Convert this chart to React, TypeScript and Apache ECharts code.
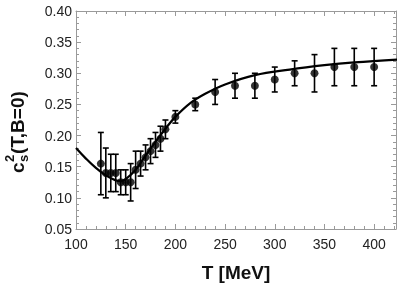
import React, { useEffect, useRef } from "react";
import * as echarts from "echarts";

// Lattice data points
const tempT = [125, 130, 135, 140, 145, 150, 155, 160, 165, 170, 175, 180, 185, 190, 200, 220, 240, 260, 280, 300, 320, 340, 360, 380, 400];
const cs2 = [0.155, 0.14, 0.14, 0.14, 0.125, 0.125, 0.125, 0.145, 0.155, 0.165, 0.175, 0.185, 0.195, 0.21, 0.23, 0.25, 0.27, 0.28, 0.28, 0.29, 0.30, 0.30, 0.31, 0.31, 0.31];
const cs2Err = [0.05, 0.04, 0.03, 0.03, 0.02, 0.02, 0.03, 0.03, 0.02, 0.02, 0.02, 0.02, 0.02, 0.015, 0.01, 0.01, 0.02, 0.02, 0.02, 0.02, 0.02, 0.03, 0.03, 0.03, 0.03];

// Model curve
const curveT = [100, 110, 120, 130, 140, 145, 150, 160, 170, 180, 190, 200, 215, 230, 250, 280, 315, 350, 380, 423];
const curveCs2 = [0.18, 0.163, 0.148, 0.136, 0.128, 0.127, 0.13, 0.145, 0.168, 0.19, 0.211, 0.23, 0.252, 0.267, 0.282, 0.297, 0.306, 0.313, 0.3175, 0.322];

const xTicks = [100, 150, 200, 250, 300, 350, 400];

const FONT = "'Liberation Sans', Arial, sans-serif";

export default function App() {
  const ref = useRef<HTMLDivElement>(null);
  useEffect(() => {
    if (!ref.current) return;
    const chart = echarts.init(ref.current, undefined, { renderer: "svg" });
    const frame = "#9a9a9a";
    const tickStyle = { lineStyle: { color: frame, width: 1 } };
    const baseX = {
      type: "value" as const,
      min: 100,
      max: 422,
      interval: 50,
      axisLine: { show: true, onZero: false, lineStyle: { color: frame, width: 1 } },
      axisTick: { show: true, inside: true, length: 5, ...tickStyle },
      minorTick: { show: true, splitNumber: 5, length: 3, ...tickStyle },
      splitLine: { show: false },
    };
    const baseY = {
      type: "value" as const,
      min: 0.05,
      max: 0.4,
      interval: 0.05,
      axisLine: { show: true, onZero: false, lineStyle: { color: frame, width: 1 } },
      axisTick: { show: true, inside: true, length: 5, ...tickStyle },
      minorTick: { show: true, splitNumber: 5, length: 3, ...tickStyle },
      splitLine: { show: false },
    };
    const errData = tempT.map((t, i) => [t, cs2[i] - cs2Err[i], cs2[i] + cs2Err[i]]);
    chart.setOption({
      animation: false,
      grid: { left: 76, right: 2, top: 11, bottom: 63, containLabel: false },
      xAxis: [
        {
          ...baseX,
          position: "bottom",
          name: "T [MeV]",
          nameLocation: "middle",
          nameGap: 34,
          nameTextStyle: { fontFamily: FONT, fontWeight: "bold", fontSize: 19, color: "#111" },
          axisLabel: {
            show: true,
            margin: 8,
            fontFamily: FONT,
            fontSize: 14,
            color: "#222",
            formatter: (v: number) => (xTicks.includes(v) ? String(v) : ""),
          },
        },
        { ...baseX, position: "top", axisLabel: { show: false } },
      ],
      yAxis: [
        {
          ...baseY,
          position: "left",
          axisLabel: {
            show: true,
            margin: 4,
            fontFamily: FONT,
            fontSize: 14,
            color: "#222",
            formatter: (v: number) => v.toFixed(2),
          },
        },
        { ...baseY, position: "right", axisLabel: { show: false } },
      ],
      graphic: [
        {
          type: "group",
          x: 17,
          y: 173,
          rotation: Math.PI / 2,
          children: [
            { type: "text", x: 0, y: 0, style: { text: "c", font: `bold 19px ${FONT}`, fill: "#111", align: "left", verticalAlign: "middle" } },
            { type: "text", x: 11, y: -8, style: { text: "2", font: `bold 13px ${FONT}`, fill: "#111", align: "left", verticalAlign: "middle" } },
            { type: "text", x: 11, y: 6, style: { text: "s", font: `bold 13px ${FONT}`, fill: "#111", align: "left", verticalAlign: "middle" } },
            { type: "text", x: 19, y: 0, style: { text: "(T,B=0)", font: `bold 19px ${FONT}`, fill: "#111", align: "left", verticalAlign: "middle" } },
          ],
        },
      ],
      series: [
        {
          type: "line",
          data: curveT.map((t, i) => [t, curveCs2[i]]),
          smooth: 0.4,
          showSymbol: false,
          lineStyle: { color: "#000", width: 2.2 },
          z: 3,
        },
        {
          type: "custom",
          data: errData,
          renderItem: (params: any, api: any) => {
            const t = api.value(0);
            const lo = api.coord([t, api.value(1)]);
            const hi = api.coord([t, api.value(2)]);
            const w = 3;
            const st = { stroke: "#000", lineWidth: 1.6 };
            return {
              type: "group",
              children: [
                { type: "line", shape: { x1: lo[0], y1: lo[1], x2: hi[0], y2: hi[1] }, style: st },
                { type: "line", shape: { x1: lo[0] - w, y1: lo[1], x2: lo[0] + w, y2: lo[1] }, style: st },
                { type: "line", shape: { x1: hi[0] - w, y1: hi[1], x2: hi[0] + w, y2: hi[1] }, style: st },
              ],
            };
          },
          z: 4,
        },
        {
          type: "scatter",
          data: tempT.map((t, i) => [t, cs2[i]]),
          symbol: "circle",
          symbolSize: 8,
          itemStyle: { color: "#000" },
          z: 5,
        },
      ],
    });
    return () => chart.dispose();
  }, []);
  return <div ref={ref} style={{ position: "fixed", left: 0, top: 0, width: 399, height: 292 }} />;
}
